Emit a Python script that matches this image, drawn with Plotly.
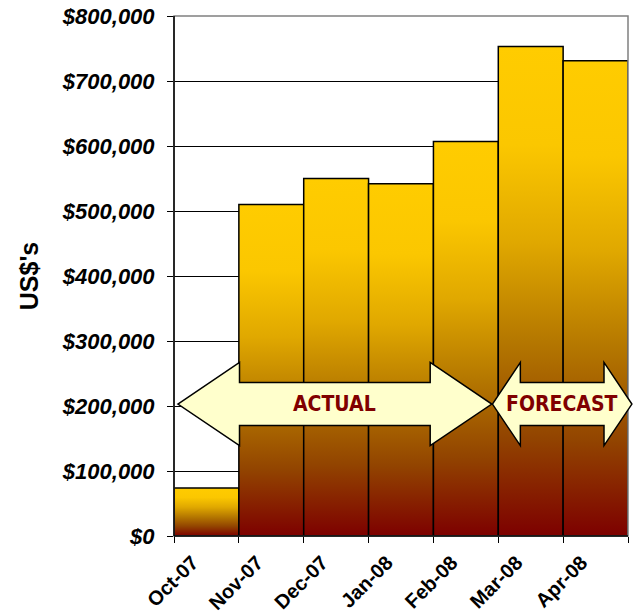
import plotly.graph_objects as go

# data
months = ['Oct-07', 'Nov-07', 'Dec-07', 'Jan-08', 'Feb-08', 'Mar-08', 'Apr-08']
revenue = [74000, 510000, 550000, 542000, 607000, 753000, 731000]

y_max = 800000
y_step = 100000
y_ticks = list(range(0, y_max + 1, y_step))
y_ticktext = [f'<i>${v:,}</i>' for v in y_ticks]

# bar gradient, bottom (0) -> top (1)
BAR_SCALE = [
    [0.0, '#7d0000'],
    [0.2, '#924400'],
    [0.4, '#b57800'],
    [0.6, '#e0a800'],
    [0.8, '#fbc700'],
    [1.0, '#ffcc00'],
]

# arrows: (label, left tip, right tip, head length) in category units
arrows = [
    ('ACTUAL', -0.44, 4.40, 0.95),
    ('FORECAST', 4.41, 6.56, 0.43),
]
ARROW_Y = 203000
HEAD_H = 64000
BODY_H = 33000

n = len(months)
pos = list(range(n))


def px(x):
    # category units -> paper fraction
    return (x + 0.5) / n


def py(y):
    return y / y_max


def arrow_path(x0, x1, head):
    pts = [
        (x0, ARROW_Y),
        (x0 + head, ARROW_Y + HEAD_H),
        (x0 + head, ARROW_Y + BODY_H),
        (x1 - head, ARROW_Y + BODY_H),
        (x1 - head, ARROW_Y + HEAD_H),
        (x1, ARROW_Y),
        (x1 - head, ARROW_Y - HEAD_H),
        (x1 - head, ARROW_Y - BODY_H),
        (x0 + head, ARROW_Y - BODY_H),
        (x0 + head, ARROW_Y - HEAD_H),
    ]
    return 'M ' + ' L '.join(f'{px(a):.5f},{py(b):.5f}' for a, b in pts) + ' Z'


fig = go.Figure()
for i, v in zip(pos, revenue):
    fig.add_trace(go.Scatter(
        x=[i - 0.5, i - 0.5, i + 0.5, i + 0.5, i - 0.5],
        y=[0, v, v, 0, 0],
        mode='lines',
        fill='toself',
        fillgradient=dict(type='vertical', colorscale=BAR_SCALE),
        line=dict(color='black', width=1.5),
        hoverinfo='skip',
        showlegend=False,
    ))

shapes = [
    # gray plot-area border (top / right)
    dict(type='rect', xref='paper', yref='paper', x0=0, x1=1, y0=0, y1=1,
         line=dict(color='#808080', width=1.5), layer='above'),
    # black axes on top of border
    dict(type='line', xref='paper', yref='paper', x0=0, x1=0, y0=0, y1=1,
         line=dict(color='black', width=1.5), layer='above'),
    dict(type='line', xref='paper', yref='paper', x0=0, x1=1, y0=0, y1=0,
         line=dict(color='black', width=1.5), layer='above'),
]
annotations = []
for label, x0, x1, head in arrows:
    shapes.append(dict(type='path', xref='paper', yref='paper', path=arrow_path(x0, x1, head),
                       fillcolor='#ffffcc', line=dict(color='black', width=1.5), layer='above'))
    annotations.append(dict(
        x=px((x0 + x1) / 2), y=py(ARROW_Y), xref='paper', yref='paper',
        xanchor='center', yanchor='middle',
        text=f'<b>{label}</b>', showarrow=False,
        font=dict(family='DejaVu Sans Condensed, DejaVu Sans', size=21, color='#800000'),
    ))

fig.update_xaxes(
    range=[-0.5, n - 0.5],
    tickvals=pos, ticktext=months, tickangle=-45,
    ticks='', showgrid=False, zeroline=False, showline=False,
    ticklabelstandoff=10, ticklabelshift=-14,
    minor=dict(tickvals=[i - 0.5 for i in range(n + 1)], ticks='outside',
               ticklen=6, tickcolor='black', tickwidth=1, showgrid=False),
    tickfont=dict(family='Arial, Liberation Sans', size=20, color='black', weight='bold'),
)
fig.update_yaxes(
    range=[0, y_max], tickvals=y_ticks, ticktext=y_ticktext,
    ticks='outside', ticklen=6, tickcolor='black',
    showgrid=True, gridcolor='black', gridwidth=1,
    zeroline=False, showline=False, ticklabelstandoff=8,
    tickfont=dict(family='Arial, Liberation Sans', size=22, color='black', weight='bold'),
    title=dict(text="US$'s", standoff=16,
               font=dict(family='Arial, Liberation Sans', size=25, color='black', weight='bold')),
)
fig.update_layout(
    width=635, height=616,
    margin=dict(l=174, r=7, t=16, b=80, autoexpand=False),
    plot_bgcolor='white', paper_bgcolor='white',
    shapes=shapes, annotations=annotations,
    showlegend=False,
)

fig.write_html("out.html", config={'displayModeBar': False},
               post_script="document.body.style.margin='0';")
